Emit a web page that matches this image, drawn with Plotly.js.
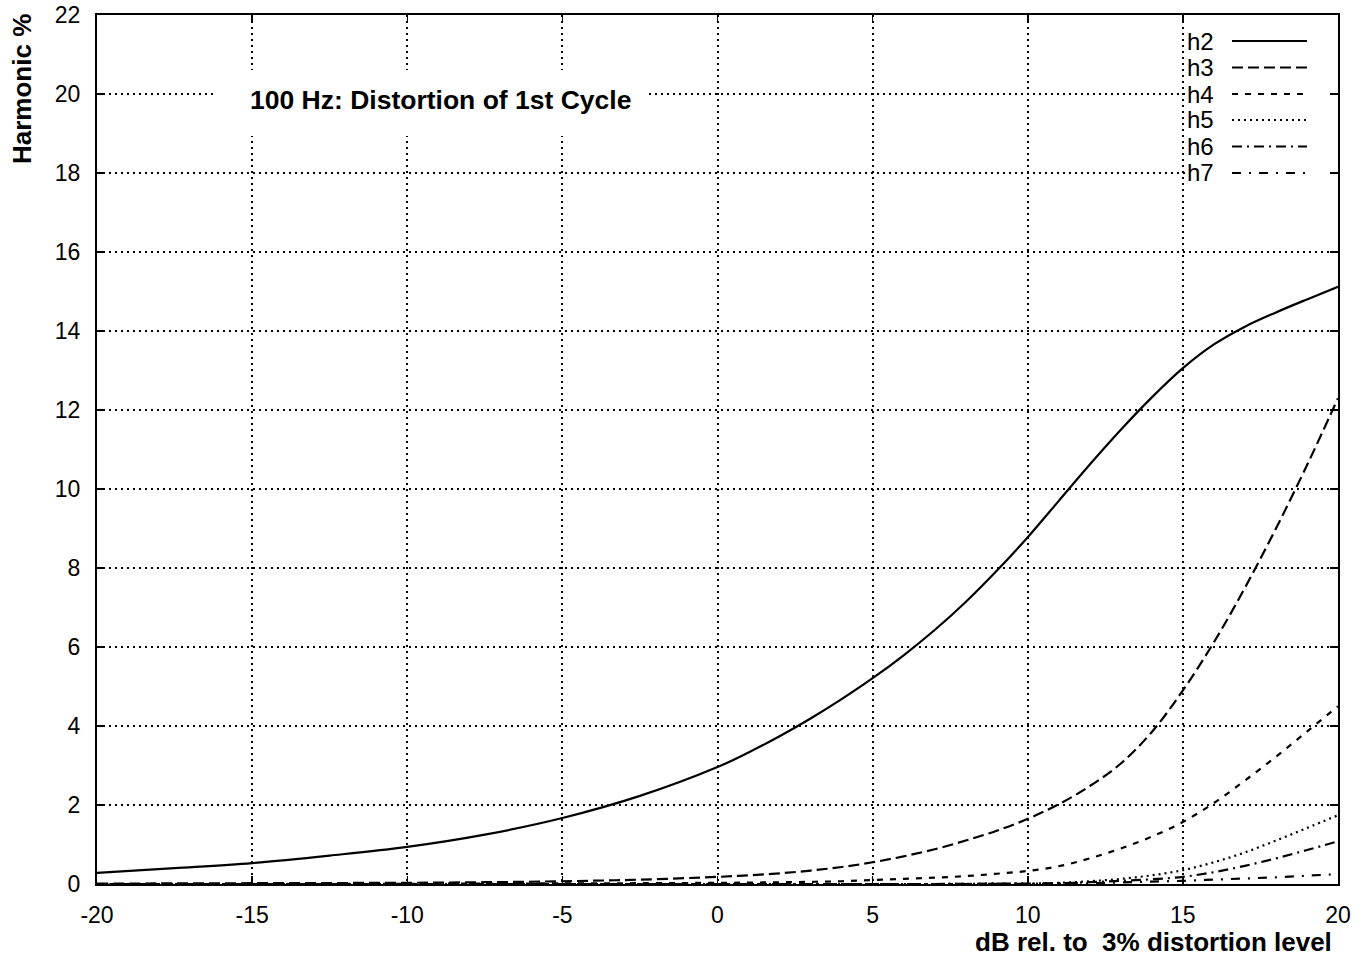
<!DOCTYPE html>
<html>
<head>
<meta charset="utf-8">
<script src="https://cdn.plot.ly/plotly-3.0.1.min.js"></script>
<style>html,body{margin:0;padding:0;background:#fff;}#chart{width:1369px;height:962px;}</style>
</head>
<body>
<div id="chart"></div>
<script>
// Data
const xDb = [-20, -17.5, -15, -12.5, -10, -7.5, -5, -2.5, 0, 1, 2, 3, 4, 5, 6, 7, 8, 9, 10, 11, 12, 13, 14, 15, 16, 17, 18, 19, 20];
const h2 = [0.28, 0.40, 0.53, 0.72, 0.94, 1.25, 1.67, 2.23, 2.96, 3.33, 3.74, 4.19, 4.68, 5.21, 5.79, 6.43, 7.14, 7.93, 8.78, 9.70, 10.62, 11.50, 12.32, 13.06, 13.66, 14.11, 14.47, 14.80, 15.12];
const h3 = [0.01, 0.015, 0.02, 0.025, 0.03, 0.045, 0.07, 0.11, 0.18, 0.22, 0.27, 0.34, 0.43, 0.55, 0.7, 0.88, 1.1, 1.35, 1.65, 2.02, 2.48, 3.05, 3.85, 4.9, 6.12, 7.5, 9.0, 10.6, 12.3];
const h4 = [0, 0, 0, 0, 0.005, 0.01, 0.015, 0.02, 0.03, 0.035, 0.045, 0.055, 0.07, 0.1, 0.13, 0.16, 0.2, 0.26, 0.33, 0.45, 0.65, 0.9, 1.2, 1.57, 2.05, 2.62, 3.22, 3.86, 4.5];
const h5 = [0, 0, 0, 0, 0, 0, 0, 0, 0, 0, 0, 0, 0, 0, 0, 0, 0.005, 0.008, 0.01, 0.03, 0.07, 0.13, 0.22, 0.35, 0.55, 0.8, 1.1, 1.42, 1.74];
const h6 = [0, 0, 0, 0, 0, 0, 0, 0, 0, 0, 0, 0, 0, 0, 0, 0, 0.005, 0.008, 0.01, 0.02, 0.045, 0.08, 0.12, 0.18, 0.3, 0.46, 0.65, 0.86, 1.08];
const h7 = [0, 0, 0, 0, 0, 0, 0, 0, 0, 0, 0, 0, 0, 0, 0, 0, 0, 0.003, 0.005, 0.01, 0.02, 0.04, 0.06, 0.08, 0.11, 0.14, 0.17, 0.21, 0.25];
const seriesNames = ['h2', 'h3', 'h4', 'h5', 'h6', 'h7'];
const seriesData = [h2, h3, h4, h5, h6, h7];
const xTicks = [-20, -15, -10, -5, 0, 5, 10, 15, 20];
const yTicks = [0, 2, 4, 6, 8, 10, 12, 14, 16, 18, 20, 22];
const chartTitle = '100 Hz: Distortion of 1st Cycle';
const xTitle = 'dB rel. to \u00a03% distortion level';
const yTitle = 'Harmonic %';

// Styles
const dashes = ['solid', '11px,5px', '6px,7px', '2px,4px', '10px,5px,2px,5px', '9px,8px,2px,8px'];
const FONT = 'Liberation Sans, Arial, Helvetica, sans-serif';

const W = 1369, H = 962;
const M = {l: 97, r: 31, t: 15, b: 78};
const PW = W - M.l - M.r, PH = H - M.t - M.b;
const px2x = p => (p - M.l) / PW;
const py2y = p => (H - M.b - p) / PH;

const traces = seriesData.map((ys, i) => ({
  type: 'scatter', mode: 'lines', name: seriesNames[i],
  x: xDb, y: ys,
  line: {color: '#000', width: 2.2, dash: dashes[i], shape: 'spline', smoothing: 1},
  showlegend: false, hoverinfo: 'skip'
}));

const shapes = [];
const annotations = [];

// white box behind the title (blanks the grid)
shapes.push({type: 'rect', xref: 'paper', yref: 'paper', layer: 'above',
  x0: px2x(213), x1: px2x(648), y0: py2y(136), y1: py2y(70),
  fillcolor: '#fff', line: {width: 0}});
// white box behind the key
shapes.push({type: 'rect', xref: 'paper', yref: 'paper', layer: 'above',
  x0: px2x(1186), x1: px2x(1329), y0: py2y(188), y1: py2y(17),
  fillcolor: '#fff', line: {width: 0}});

const rowY = [41, 67.5, 94, 120, 146.5, 173];
seriesNames.forEach((n, i) => {
  shapes.push({type: 'line', xref: 'paper', yref: 'paper', layer: 'above',
    x0: px2x(1232), x1: px2x(1307), y0: py2y(rowY[i]), y1: py2y(rowY[i]),
    line: {color: '#000', width: 2.2, dash: dashes[i]}});
  annotations.push({xref: 'paper', yref: 'paper', x: px2x(1185), y: py2y(rowY[i]),
    xanchor: 'left', yanchor: 'middle', text: n, showarrow: false,
    font: {family: FONT, size: 24, color: '#000'}});
});

annotations.push({xref: 'paper', yref: 'paper', x: px2x(248), y: py2y(100),
  xanchor: 'left', yanchor: 'middle', text: '<b>' + chartTitle + '</b>', showarrow: false,
  font: {family: FONT, size: 26.5, color: '#000'}});
annotations.push({xref: 'paper', yref: 'paper', x: px2x(1334), y: py2y(942),
  xanchor: 'right', yanchor: 'middle', text: '<b>' + xTitle + '</b>', showarrow: false,
  font: {family: FONT, size: 26, color: '#000'}});
annotations.push({xref: 'paper', yref: 'paper', x: px2x(22), y: py2y(12),
  xanchor: 'center', yanchor: 'top', textangle: -90, text: '<b>' + yTitle + '</b>', showarrow: false,
  font: {family: FONT, size: 26, color: '#000'}});

const axisCommon = {
  showline: true, linecolor: '#000', linewidth: 2, mirror: 'ticks',
  ticks: 'inside', ticklen: 8, tickwidth: 1.5, tickcolor: '#000',
  showgrid: true, gridcolor: '#000', gridwidth: 2, griddash: '2px,4px',
  zeroline: false, tickfont: {family: FONT, size: 23, color: '#000'},
  fixedrange: true
};

const layout = {
  width: W, height: H,
  margin: {l: M.l, r: M.r, t: M.t, b: M.b, pad: 0},
  paper_bgcolor: '#fff', plot_bgcolor: '#fff',
  showlegend: false,
  xaxis: Object.assign({}, axisCommon, {range: [-20, 20], tickmode: 'array', tickvals: xTicks,
    ticktext: xTicks.map(String), ticklabelstandoff: 9}),
  yaxis: Object.assign({}, axisCommon, {range: [0, 22], tickmode: 'array', tickvals: yTicks,
    ticktext: yTicks.map(String), ticklabelstandoff: 10}),
  shapes: shapes,
  annotations: annotations
};

Plotly.newPlot('chart', traces, layout, {staticPlot: true, displayModeBar: false});
</script>
</body>
</html>
